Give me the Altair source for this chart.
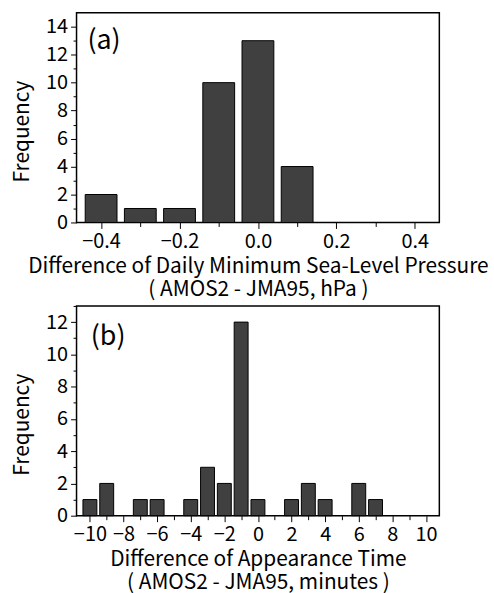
import altair as alt
import pandas as pd

# Panel (a) data
a_centers = [-0.4, -0.3, -0.2, -0.1, 0.0, 0.1, 0.2, 0.3, 0.4]
a_counts = [2, 1, 1, 10, 13, 4, 0, 0, 0]
a_ticks = [-0.4, -0.3, -0.2, -0.1, 0.0, 0.1, 0.2, 0.3, 0.4]

# Panel (b) data
b_centers = list(range(-10, 11))
b_counts = [1, 2, 0, 1, 1, 0, 1, 3, 2, 12, 1, 0, 1, 2, 1, 0, 2, 1, 0, 0, 0]

FONT = "Noto Sans CJK JP"
FS = 20
TFS = 21
BAR = "#404040"

df_a = pd.DataFrame({"x": a_centers, "n": a_counts})
df_b = pd.DataFrame({"x": b_centers, "n": b_counts})
lab_a = pd.DataFrame({"x": [-0.435], "n": [12.95], "t": ["(a)"]})
lab_b = pd.DataFrame({"x": [-9.95], "n": [11.1], "t": ["(b)"]})


def yenc(maxv, top):
    return alt.Y("n:Q", scale=alt.Scale(domain=[0, top], nice=False), axis=alt.Axis(
        values=list(range(0, maxv + 1)),
        labelExpr="datum.value % 2 === 0 ? datum.label : ''",
        tickSize={"condition": {"test": "datum.value % 2 !== 0", "value": 3.5}, "value": 6},
        labelPadding=3, labelOverlap=False,
        title="Frequency", titleX=-54, titleY=119, titleAngle=-90,
        titleAlign="center", titleBaseline="middle",
    ))


xa = alt.X("x:Q", scale=alt.Scale(domain=[-0.45, 0.45], nice=False, zero=False),
           axis=alt.Axis(
               values=a_ticks, format=".1f",
               labelExpr="abs(round(datum.value*10)) % 2 === 0 ? datum.label : ''",
               tickSize={"condition": {"test": "abs(round(datum.value*10)) % 2 !== 0", "value": 4}, "value": 6},
               labelPadding=3, labelFlush=False, labelOverlap=False,
               title=["Difference of Daily Minimum Sea-Level Pressure", "( AMOS2 - JMA95, hPa )"],
               titlePadding=4, titleLineHeight=23,
           ))
ya = yenc(14, 15)

xb = alt.X("x:Q", scale=alt.Scale(domain=[-10.5, 10.5], nice=False, zero=False),
           axis=alt.Axis(
               values=b_centers,
               labelExpr="datum.value % 2 === 0 ? datum.label : ''",
               tickSize={"condition": {"test": "datum.value % 2 !== 0", "value": 4}, "value": 6},
               labelPadding=3, labelFlush=False, labelOverlap=False,
               title=["Difference of Appearance Time", "( AMOS2 - JMA95, minutes )"],
               titlePadding=4, titleLineHeight=23,
           ))
yb = yenc(13, 13)

panel_a_bars = alt.Chart(df_a).transform_filter("datum.n > 0").mark_bar(
    size=32, color=BAR, stroke="black", strokeWidth=1
).encode(x=xa, y=ya)
panel_a_lab = alt.Chart(lab_a).mark_text(
    align="left", baseline="middle", font=FONT, fontSize=27, color="black"
).encode(x=xa, y=ya, text="t:N")
panel_a = (panel_a_bars + panel_a_lab).properties(width=365, height=211)

panel_b_bars = alt.Chart(df_b).transform_filter("datum.n > 0").mark_bar(
    size=14, color=BAR, stroke="black", strokeWidth=1
).encode(x=xb, y=yb)
panel_b_lab = alt.Chart(lab_b).mark_text(
    align="left", baseline="middle", font=FONT, fontSize=27, color="black"
).encode(x=xb, y=yb, text="t:N")
panel_b = (panel_b_bars + panel_b_lab).properties(width=365, height=211)

chart = alt.vconcat(panel_a, panel_b, spacing=84, bounds="flush").properties(
    padding={"left": 11, "top": 10, "right": 5, "bottom": 5},
    background="white",
).configure_view(
    stroke="black", strokeWidth=1.5
).configure_axis(
    grid=False, domain=False, tickColor="black", labelColor="black",
    labelFont=FONT, labelFontSize=FS, labelOverlap=False,
    titleFont=FONT, titleFontSize=TFS, titleFontWeight="normal", titleColor="black",
)

chart.save("out.html", embed_options={"renderer": "svg", "actions": False})
